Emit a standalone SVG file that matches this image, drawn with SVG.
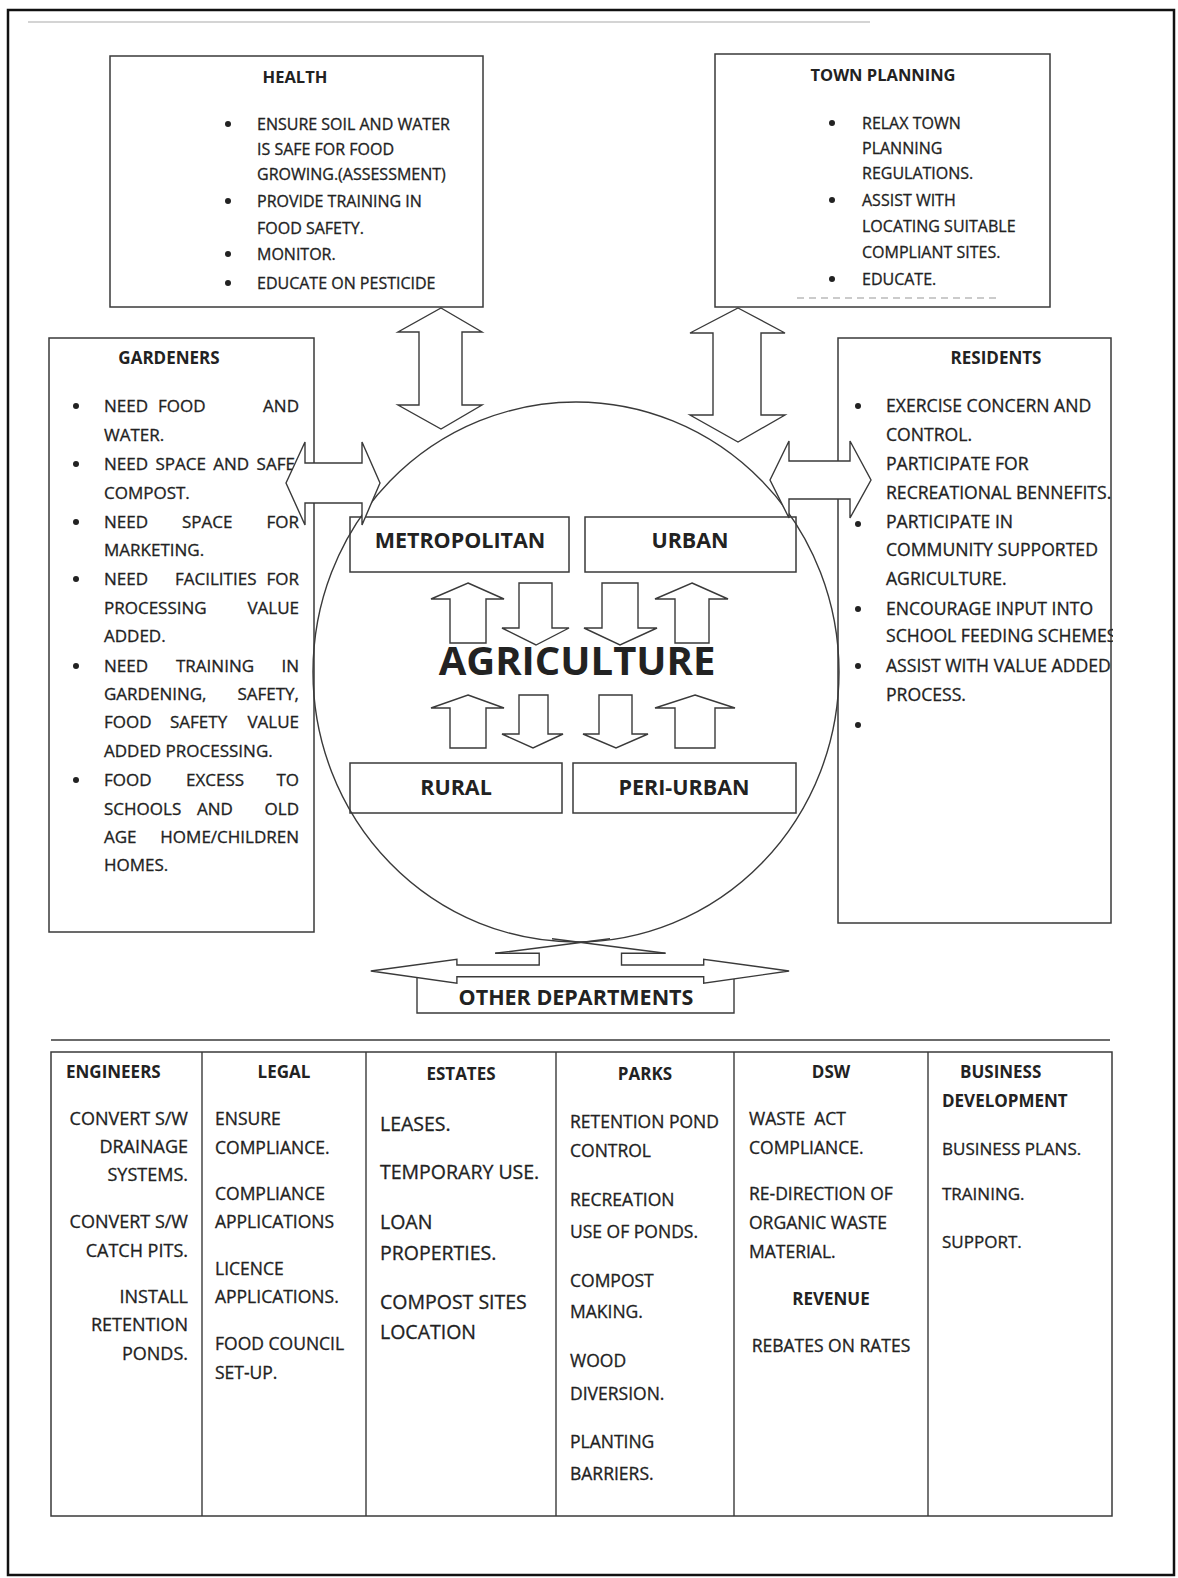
<svg xmlns="http://www.w3.org/2000/svg" width="1178" height="1578" viewBox="0 0 1178 1578">
<defs>
<style>
text{font-family:"Open Sans","Noto Sans","DejaVu Sans",sans-serif;fill:#222;stroke:#222;stroke-width:0.3}
.box{fill:#fff;stroke:#3a3a3a;stroke-width:1.5}
.ln{fill:none;stroke:#3a3a3a;stroke-width:1.4}
.arr{fill:#fff;stroke:#3a3a3a;stroke-width:1.4;stroke-linejoin:miter}
.b{font-weight:bold;stroke-width:0}
.s16{font-size:16px}
.s17{font-size:17px}
.s175{font-size:17.5px}
.s18{font-size:18px}
.s195{font-size:19.5px}
.h{font-size:16.5px;font-weight:bold;stroke-width:0}
.m{text-anchor:middle}
.e{text-anchor:end}
.dot{fill:#222}
</style>
<clipPath id="resClip"><rect x="838" y="338" width="275" height="590"/></clipPath>
</defs>
<rect x="0" y="0" width="1178" height="1578" fill="#fff"/>
<line x1="28" y1="22" x2="870" y2="22" stroke="#aaa" stroke-width="1.2"/>
<rect x="8" y="10" width="1166" height="1565" fill="none" stroke="#111" stroke-width="2.5"/>

<g id="health">
<rect class="box" x="110" y="56" width="373" height="251"/>
<text class="h m" x="295" y="83">HEALTH</text>
<g class="s16">
<circle class="dot" cx="228" cy="124" r="3"/><text x="257" y="130">ENSURE SOIL AND WATER</text>
<text x="257" y="155">IS SAFE FOR FOOD</text>
<text x="257" y="180">GROWING.(ASSESSMENT)</text>
<circle class="dot" cx="228" cy="201" r="3"/><text x="257" y="207">PROVIDE TRAINING IN</text>
<text x="257" y="234">FOOD SAFETY.</text>
<circle class="dot" cx="228" cy="254" r="3"/><text x="257" y="260">MONITOR.</text>
<circle class="dot" cx="228" cy="283" r="3"/><text x="257" y="289">EDUCATE ON PESTICIDE</text>
</g>
</g>

<g id="town-planning">
<rect class="box" x="715" y="54" width="335" height="253"/>
<text class="h m" x="883" y="81">TOWN PLANNING</text>
<g class="s16">
<circle class="dot" cx="832" cy="123" r="3"/><text x="862" y="129">RELAX TOWN</text>
<text x="862" y="154">PLANNING</text>
<text x="862" y="179">REGULATIONS.</text>
<circle class="dot" cx="832" cy="200" r="3"/><text x="862" y="206">ASSIST WITH</text>
<text x="862" y="232">LOCATING SUITABLE</text>
<text x="862" y="258">COMPLIANT SITES.</text>
<circle class="dot" cx="832" cy="279" r="3"/><text x="862" y="285">EDUCATE.</text>
</g>
<line x1="797" y1="298" x2="996" y2="298" stroke="#bbb" stroke-width="1.5" stroke-dasharray="7 5"/>
</g>

<g id="gardeners">
<rect class="box" x="49" y="338" width="265" height="594"/>
<text class="b s17 m" x="169" y="364">GARDENERS</text>
<g class="s17">
<circle class="dot" cx="76" cy="406" r="3"/>
<text x="104" y="412">NEED</text><text x="158" y="412">FOOD</text><text class="e" x="299" y="412">AND</text>
<text x="104" y="441">WATER.</text>
<circle class="dot" cx="76" cy="464" r="3"/>
<text x="104" y="470" word-spacing="3">NEED SPACE AND SAFE</text>
<text x="104" y="499">COMPOST.</text>
<circle class="dot" cx="76" cy="522" r="3"/>
<text x="104" y="528">NEED</text><text x="182" y="528">SPACE</text><text class="e" x="299" y="528">FOR</text>
<text x="104" y="556">MARKETING.</text>
<circle class="dot" cx="76" cy="579" r="3"/>
<text x="104" y="585">NEED</text><text x="175" y="585">FACILITIES</text><text class="e" x="299" y="585">FOR</text>
<text x="104" y="614">PROCESSING</text><text class="e" x="299" y="614">VALUE</text>
<text x="104" y="642">ADDED.</text>
<circle class="dot" cx="76" cy="666" r="3"/>
<text x="104" y="672">NEED</text><text x="176" y="672">TRAINING</text><text class="e" x="299" y="672">IN</text>
<text x="104" y="700">GARDENING,</text><text class="e" x="299" y="700">SAFETY,</text>
<text x="104" y="728">FOOD</text><text x="170" y="728">SAFETY</text><text class="e" x="299" y="728">VALUE</text>
<text x="104" y="757">ADDED PROCESSING.</text>
<circle class="dot" cx="76" cy="780" r="3"/>
<text x="104" y="786">FOOD</text><text x="186" y="786">EXCESS</text><text class="e" x="299" y="786">TO</text>
<text x="104" y="815">SCHOOLS</text><text x="197" y="815">AND</text><text class="e" x="299" y="815">OLD</text>
<text x="104" y="843">AGE</text><text class="e" x="299" y="843">HOME/CHILDREN</text>
<text x="104" y="871">HOMES.</text>
</g>
</g>

<g id="residents">
<rect class="box" x="838" y="338" width="273" height="585"/>
<text class="b s17 m" x="996" y="364">RESIDENTS</text>
<g font-size="17.6" clip-path="url(#resClip)">
<circle class="dot" cx="858" cy="406" r="3"/><text x="886" y="412">EXERCISE CONCERN AND</text>
<text x="886" y="441">CONTROL.</text>
<text x="886" y="470">PARTICIPATE FOR</text>
<text x="886" y="499">RECREATIONAL BENNEFITS.</text>
<circle class="dot" cx="858" cy="524" r="3"/><text x="886" y="528">PARTICIPATE IN</text>
<text x="886" y="556">COMMUNITY SUPPORTED</text>
<text x="886" y="585">AGRICULTURE.</text>
<circle class="dot" cx="858" cy="609" r="3"/><text x="886" y="615">ENCOURAGE INPUT INTO</text>
<text x="886" y="642">SCHOOL FEEDING SCHEMES</text>
<circle class="dot" cx="858" cy="666" r="3"/><text x="886" y="672">ASSIST WITH VALUE ADDED</text>
<text x="886" y="701">PROCESS.</text>
<circle class="dot" cx="858" cy="725" r="3"/>
</g>
</g>

<g id="metropolitan">
<rect class="box" x="350" y="517" width="219" height="55"/>
<text class="b m" x="460" y="548" font-size="21.5">METROPOLITAN</text>
</g>
<g id="urban">
<rect class="box" x="585" y="517" width="211" height="55"/>
<text class="b m" x="690" y="548" font-size="21.5">URBAN</text>
</g>
<g id="rural">
<rect class="box" x="350" y="763" width="212" height="50"/>
<text class="b m" x="456" y="795" font-size="21.5">RURAL</text>
</g>
<g id="peri-urban">
<rect class="box" x="573" y="763" width="223" height="50"/>
<text class="b m" x="684" y="795" font-size="21.5">PERI-URBAN</text>
</g>

<g id="agriculture">
<ellipse class="ln" cx="576" cy="672" rx="263" ry="270"/>
</g>

<g id="connectors">
<path class="arr" d="M441,308 L482,332 L462,332 L462,405 L482,405 L441,429 L398,405 L419,405 L419,332 L398,332 Z"/>
<path class="arr" d="M738,308 L785,333 L761,333 L761,415 L785,415 L738,442 L690,415 L713,415 L713,333 L690,333 Z"/>
<path class="arr" d="M286,483 L305,442 L305,463 L362,463 L362,442 L380,483 L362,525 L362,503 L305,503 L305,525 Z"/>
<path class="arr" d="M770,480 L789,441 L789,461 L850,461 L850,441 L871,480 L850,518 L850,499 L789,499 L789,518 Z"/>
<path class="arr" d="M468,583 L504,599 L486,599 L486,643 L450,643 L450,599 L431,599 Z"/>
<path class="arr" d="M519,583 L552,583 L552,628 L569,628 L536,645 L502,628 L519,628 Z"/>
<path class="arr" d="M602,583 L638,583 L638,628 L657,628 L620,645 L584,628 L602,628 Z"/>
<path class="arr" d="M692,583 L728,599 L709,599 L709,643 L675,643 L675,599 L655,599 Z"/>
<path class="arr" d="M468,695 L504,708 L486,708 L486,748 L450,748 L450,708 L431,708 Z"/>
<path class="arr" d="M519,695 L548,695 L548,734 L563,734 L533,748 L502,734 L519,734 Z"/>
<path class="arr" d="M599,695 L632,695 L632,734 L648,734 L616,748 L583,734 L599,734 Z"/>
<path class="arr" d="M695,695 L735,708 L715,708 L715,748 L675,748 L675,708 L655,708 Z"/>
<path class="ln" d="M495.2,953.3 L539.2,953.3 L539.2,965 L456.9,965 L456.9,959.3 L370.8,971 L456.9,983.3 L456.9,976.7 L703.7,976.7 L703.7,983.3 L789.1,971 L703.7,959.3 L703.7,965 L621.5,965 L621.5,953.3 L665.5,953.3"/>
<path class="ln" d="M495.2,953.3 L610,938.7 M665.5,953.3 L552,938.7"/>
</g>

<text class="b m" x="577" y="675" font-size="40">AGRICULTURE</text>

<g id="other-departments">
<path class="ln" d="M417,977.6 L417,1013 L734,1013 L734,978.9"/>
<text class="b m" x="576" y="1005" font-size="21.5">OTHER DEPARTMENTS</text>
</g>

<line x1="51" y1="1040" x2="1110" y2="1040" stroke="#3a3a3a" stroke-width="1.5"/>

<g id="departments-table">
<rect class="box" x="51" y="1052" width="1061" height="464" stroke-width="2"/>
<line class="ln" x1="202" y1="1052" x2="202" y2="1516"/>
<line class="ln" x1="366" y1="1052" x2="366" y2="1516"/>
<line class="ln" x1="556" y1="1052" x2="556" y2="1516"/>
<line class="ln" x1="734" y1="1052" x2="734" y2="1516"/>
<line class="ln" x1="928" y1="1052" x2="928" y2="1516"/>
</g>

<g id="engineers">
<text class="b s17" x="66" y="1078">ENGINEERS</text>
<g class="s18 e">
<text x="188" y="1125">CONVERT S/W</text>
<text x="188" y="1153">DRAINAGE</text>
<text x="188" y="1181">SYSTEMS.</text>
<text x="188" y="1228">CONVERT S/W</text>
<text x="188" y="1257">CATCH PITS.</text>
<text x="188" y="1303">INSTALL</text>
<text x="188" y="1331">RETENTION</text>
<text x="188" y="1360">PONDS.</text>
</g>
</g>

<g id="legal">
<text class="b s17 m" x="284" y="1078">LEGAL</text>
<g class="s175">
<text x="215" y="1125">ENSURE</text>
<text x="215" y="1154">COMPLIANCE.</text>
<text x="215" y="1200">COMPLIANCE</text>
<text x="215" y="1228">APPLICATIONS</text>
<text x="215" y="1275">LICENCE</text>
<text x="215" y="1303">APPLICATIONS.</text>
<text x="215" y="1350">FOOD COUNCIL</text>
<text x="215" y="1379">SET-UP.</text>
</g>
</g>

<g id="estates">
<text class="b s17 m" x="461" y="1080">ESTATES</text>
<g class="s195">
<text x="380" y="1131">LEASES.</text>
<text x="380" y="1179">TEMPORARY USE.</text>
<text x="380" y="1229">LOAN</text>
<text x="380" y="1260">PROPERTIES.</text>
<text x="380" y="1309">COMPOST SITES</text>
<text x="380" y="1339">LOCATION</text>
</g>
</g>

<g id="parks">
<text class="b s17 m" x="645" y="1080">PARKS</text>
<g class="s175">
<text x="570" y="1128">RETENTION POND</text>
<text x="570" y="1157">CONTROL</text>
<text x="570" y="1206">RECREATION</text>
<text x="570" y="1238">USE OF PONDS.</text>
<text x="570" y="1287">COMPOST</text>
<text x="570" y="1318">MAKING.</text>
<text x="570" y="1367">WOOD</text>
<text x="570" y="1400">DIVERSION.</text>
<text x="570" y="1448">PLANTING</text>
<text x="570" y="1480">BARRIERS.</text>
</g>
</g>

<g id="dsw">
<text class="b s17 m" x="831" y="1078">DSW</text>
<g class="s175">
<text x="749" y="1125" xml:space="preserve">WASTE  ACT</text>
<text x="749" y="1154">COMPLIANCE.</text>
<text x="749" y="1200">RE-DIRECTION OF</text>
<text x="749" y="1229">ORGANIC WASTE</text>
<text x="749" y="1258">MATERIAL.</text>
</g>
</g>

<g id="revenue">
<text class="b s17 m" x="831" y="1305">REVENUE</text>
<text class="s175 m" x="831" y="1352">REBATES ON RATES</text>
</g>

<g id="business-development">
<text class="b s17" x="960" y="1078">BUSINESS</text>
<text class="b s17" x="942" y="1107">DEVELOPMENT</text>
<g class="s17">
<text x="942" y="1155">BUSINESS PLANS.</text>
<text x="942" y="1200">TRAINING.</text>
<text x="942" y="1248">SUPPORT.</text>
</g>
</g>
</svg>
